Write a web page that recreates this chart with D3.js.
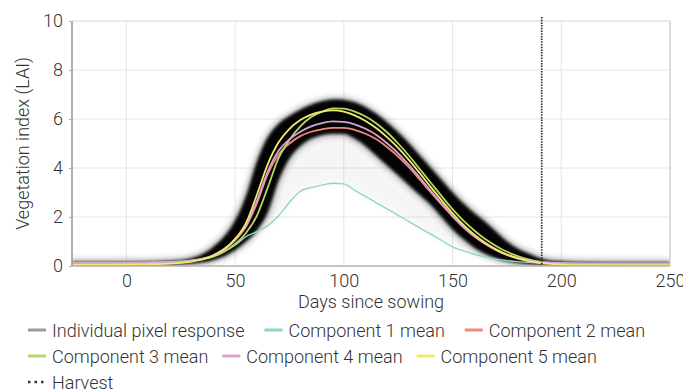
<!DOCTYPE html>
<html>
<head>
<meta charset="utf-8">
<script src="https://cdn.jsdelivr.net/npm/d3@7"></script>
<style>
  html, body { margin: 0; padding: 0; background: #fff; }
  svg { display: block; }
  text { font-family: Roboto, "Liberation Sans", sans-serif; font-weight: 300; fill: #333; }
</style>
</head>
<body>
<svg id="chart" width="683" height="392"></svg>
<script>
// Days since sowing at which every series is sampled
const days = [-25, -10, 0, 10, 20, 30, 35, 40, 45, 50, 55, 60, 65, 70, 75, 80, 85, 90, 95, 100,
  105, 110, 115, 120, 125, 130, 135, 140, 145, 150, 155, 160, 165, 170, 175, 180, 185, 190, 200, 210, 225, 250];

// Spread of the individual pixel responses (upper and lower edge of the dense band), LAI
const pixelUpper = [0.16, 0.16, 0.16, 0.17, 0.2, 0.32, 0.48, 0.78, 1.2, 1.85, 2.85, 4.25, 5.25, 5.8, 6.12, 6.38, 6.58, 6.72, 6.8, 6.78,
  6.68, 6.48, 6.2, 5.85, 5.45, 5.0, 4.5, 4.0, 3.5, 3.0, 2.55, 2.15, 1.8, 1.4, 1.0, 0.7, 0.5, 0.32, 0.18, 0.15, 0.14, 0.14];
const pixelLower = [0.05, 0.05, 0.05, 0.05, 0.06, 0.1, 0.15, 0.25, 0.4, 0.65, 1.0, 1.45, 2.2, 3.5, 4.4, 4.9, 5.2, 5.35, 5.4, 5.4,
  5.2, 4.9, 4.5, 4.1, 3.7, 3.3, 2.9, 2.5, 2.0, 1.5, 1.1, 0.75, 0.5, 0.32, 0.2, 0.13, 0.08, 0.06, 0.05, 0.05, 0.05, 0.05];

// Component mean curves, LAI
const comp1 = [0.15, 0.15, 0.15, 0.16, 0.18, 0.24, 0.3, 0.42, 0.6, 0.85, 1.2, 1.4, 1.65, 2.05, 2.6, 3.05, 3.2, 3.3, 3.38, 3.35,
  3.09, 2.84, 2.58, 2.32, 2.07, 1.81, 1.55, 1.3, 1.04, 0.78, 0.62, 0.48, 0.37, 0.28, 0.22, 0.18, 0.15, 0.13, 0.12, 0.11, 0.1, 0.1];
const comp2 = [0.1, 0.1, 0.1, 0.11, 0.14, 0.21, 0.29, 0.43, 0.67, 1.05, 1.6, 2.55, 3.75, 4.55, 5.0, 5.3, 5.48, 5.58, 5.64, 5.64,
  5.56, 5.4, 5.17, 4.85, 4.47, 4.02, 3.52, 3.0, 2.5, 2.02, 1.58, 1.2, 0.9, 0.65, 0.45, 0.3, 0.2, 0.14, 0.09, 0.08, 0.07, 0.07];
const comp3 = [0.08, 0.08, 0.09, 0.1, 0.13, 0.2, 0.27, 0.38, 0.58, 0.9, 1.35, 2.05, 3.2, 4.4, 5.15, 5.7, 6.08, 6.3, 6.43, 6.42,
  6.3, 6.1, 5.82, 5.45, 5.0, 4.5, 3.95, 3.4, 2.85, 2.32, 1.85, 1.45, 1.1, 0.82, 0.58, 0.4, 0.27, 0.18, 0.1, 0.07, 0.05, 0.04];
const comp4 = [0.12, 0.12, 0.12, 0.13, 0.15, 0.22, 0.3, 0.45, 0.7, 1.1, 1.65, 2.65, 3.85, 4.7, 5.17, 5.48, 5.7, 5.83, 5.9, 5.88,
  5.78, 5.6, 5.35, 5.0, 4.6, 4.12, 3.6, 3.07, 2.55, 2.05, 1.6, 1.22, 0.92, 0.66, 0.46, 0.32, 0.23, 0.17, 0.12, 0.1, 0.1, 0.1];
const comp5 = [0.05, 0.05, 0.06, 0.07, 0.1, 0.18, 0.27, 0.42, 0.68, 1.1, 1.75, 2.9, 4.15, 5.05, 5.6, 5.96, 6.18, 6.3, 6.35, 6.3,
  6.15, 5.92, 5.62, 5.25, 4.82, 4.32, 3.78, 3.22, 2.68, 2.15, 1.68, 1.28, 0.95, 0.68, 0.47, 0.32, 0.2, 0.13, 0.06, 0.03, 0.02, 0.02];

const harvestDay = 191;

const xTicks = [0, 50, 100, 150, 200, 250];
const yTicks = [0, 2, 4, 6, 8, 10];

const componentNames = ["Component 1 mean", "Component 2 mean", "Component 3 mean", "Component 4 mean", "Component 5 mean"];
const componentColors = ["#8fd4c8", "#f4877a", "#b6d66a", "#d9a3d2", "#f3ea6c"];
const pixelLabel = "Individual pixel response";
const harvestLabel = "Harvest";
const xTitle = "Days since sowing";
const yTitle = "Vegetation index (LAI)";

const svg = d3.select("#chart");
const margin = { left: 72, right: 13, top: 21, bottom: 126 };
const W = 683, H = 392;

const x = d3.scaleLinear().domain([-25, 250]).range([margin.left, W - margin.right]);
const y = d3.scaleLinear().domain([0, 10]).range([H - margin.bottom, margin.top]);

const defs = svg.append("defs");
defs.append("filter").attr("id", "soft").attr("x", "-10%").attr("y", "-10%").attr("width", "120%").attr("height", "120%")
  .append("feGaussianBlur").attr("stdDeviation", 1.6);
defs.append("filter").attr("id", "halo").attr("x", "-10%").attr("y", "-20%").attr("width", "120%").attr("height", "140%")
  .append("feGaussianBlur").attr("stdDeviation", 3.5);
defs.append("filter").attr("id", "haze").attr("x", "-10%").attr("y", "-20%").attr("width", "120%").attr("height", "140%")
  .append("feGaussianBlur").attr("stdDeviation", 5);
defs.append("clipPath").attr("id", "plotClip").append("rect")
  .attr("x", x(-25)).attr("y", y(10)).attr("width", x(250) - x(-25)).attr("height", y(0) - y(10));

// grid
const grid = svg.append("g");
grid.selectAll("line.h").data(yTicks.filter(d => d > 0)).join("line")
  .attr("x1", x(-25)).attr("x2", x(250)).attr("y1", d => y(d)).attr("y2", d => y(d))
  .attr("stroke", d => d === 10 ? "#d6d6d6" : "#e6e6e6").attr("stroke-width", 1);
grid.selectAll("line.v").data(xTicks.filter(d => d < 250)).join("line")
  .attr("x1", d => x(d)).attr("x2", d => x(d)).attr("y1", y(10)).attr("y2", y(0))
  .attr("stroke", "#e6e6e6").attr("stroke-width", 1);

const plot = svg.append("g").attr("clip-path", "url(#plotClip)");

// individual pixel responses as a dense band
const band = days.map((d, i) => ({ d, lo: pixelLower[i], hi: pixelUpper[i], c1: comp1[i] }));
const bandArea = d3.area().x(p => x(p.d)).y0(p => y(p.lo)).y1(p => y(p.hi)).curve(d3.curveMonotoneX);
const hazeArea = d3.area().x(p => x(p.d)).y0(p => y(Math.min(p.c1, p.lo))).y1(p => y(p.lo)).curve(d3.curveMonotoneX);

plot.append("path").attr("d", hazeArea(band)).attr("fill", "#000").attr("opacity", 0.035).attr("filter", "url(#haze)");
plot.append("path").attr("d", bandArea(band)).attr("fill", "#000").attr("stroke", "#000").attr("stroke-width", 3)
  .attr("opacity", 0.4).attr("filter", "url(#halo)");
plot.append("path").attr("d", bandArea(band)).attr("fill", "#000").attr("opacity", 0.97).attr("filter", "url(#soft)");

// component means
const comps = [comp1, comp2, comp3, comp4, comp5];
const line = d3.line().x(p => x(p[0])).y(p => y(p[1])).curve(d3.curveMonotoneX);
comps.forEach((vals, k) => {
  plot.append("path")
    .attr("d", line(days.map((d, i) => [d, vals[i]])))
    .attr("fill", "none").attr("stroke", componentColors[k])
    .attr("stroke-width", k === 0 ? 1.4 : 1.8).attr("stroke-linejoin", "round");
});

// harvest marker
svg.append("line").attr("x1", x(harvestDay)).attr("x2", x(harvestDay)).attr("y1", y(10) - 4).attr("y2", y(0))
  .attr("stroke", "#2e2e2e").attr("stroke-width", 1.7).attr("stroke-dasharray", "1.5,1.2");

// frame
svg.append("line").attr("x1", x(-25)).attr("x2", x(-25)).attr("y1", y(10)).attr("y2", y(0))
  .attr("stroke", "#9a9a9a").attr("stroke-width", 1.6);
svg.append("line").attr("x1", x(250)).attr("x2", x(250)).attr("y1", y(10)).attr("y2", y(0))
  .attr("stroke", "#c4c4c4").attr("stroke-width", 1.2);
svg.append("line").attr("x1", x(-25)).attr("x2", x(250)).attr("y1", y(0)).attr("y2", y(0))
  .attr("stroke", "#b0b0b0").attr("stroke-width", 1.5);

// axes
const yAxis = d3.axisLeft(y).tickValues(yTicks).tickSize(3).tickPadding(6);
const gy = svg.append("g").attr("transform", `translate(${x(-25)},0)`).call(yAxis);
gy.select(".domain").remove();
gy.selectAll(".tick line").attr("stroke", "#b0b0b0");
gy.selectAll(".tick text").attr("font-size", 18).attr("fill", "#333")
  .style("font-family", "Roboto, 'Liberation Sans', sans-serif").style("font-weight", 300);

const xAxis = d3.axisBottom(x).tickValues(xTicks).tickSize(0).tickPadding(8);
const gx = svg.append("g").attr("transform", `translate(0,${y(0)})`).call(xAxis);
gx.select(".domain").remove();
gx.selectAll(".tick text").attr("font-size", 18).attr("fill", "#333")
  .style("font-family", "Roboto, 'Liberation Sans', sans-serif").style("font-weight", 300);

svg.append("text").attr("x", (x(-25) + x(250)) / 2).attr("y", 308).attr("text-anchor", "middle")
  .attr("font-size", 18).text(xTitle);
svg.append("text").attr("transform", `translate(29,${(y(0) + y(10)) / 2}) rotate(-90)`).attr("text-anchor", "middle")
  .attr("font-size", 18).text(yTitle);

// legend
const legendRows = [
  [{ label: pixelLabel, color: "#9b9b9b", type: "line" },
   { label: componentNames[0], color: componentColors[0], type: "line" },
   { label: componentNames[1], color: componentColors[1], type: "line" }],
  [{ label: componentNames[2], color: componentColors[2], type: "line" },
   { label: componentNames[3], color: componentColors[3], type: "line" },
   { label: componentNames[4], color: componentColors[4], type: "line" }],
  [{ label: harvestLabel, color: "#333", type: "dots" }]
];
const legend = svg.append("g");
legendRows.forEach((row, r) => {
  const cy = 330 + r * 26;
  let cx = 28;
  row.forEach(item => {
    const g = legend.append("g");
    const sw = g.append("line").attr("x1", cx).attr("x2", cx + 18).attr("y1", cy).attr("y2", cy)
      .attr("stroke", item.color).attr("stroke-width", 3);
    if (item.type === "dots") sw.attr("stroke-width", 2.5).attr("stroke-dasharray", "2.5,4");
    const t = g.append("text").attr("x", cx + 24).attr("y", cy + 6.5).attr("font-size", 18).text(item.label);
    cx = cx + 24 + t.node().getComputedTextLength() + (r === 0 ? 20 : 14);
  });
});
</script>
</body>
</html>
